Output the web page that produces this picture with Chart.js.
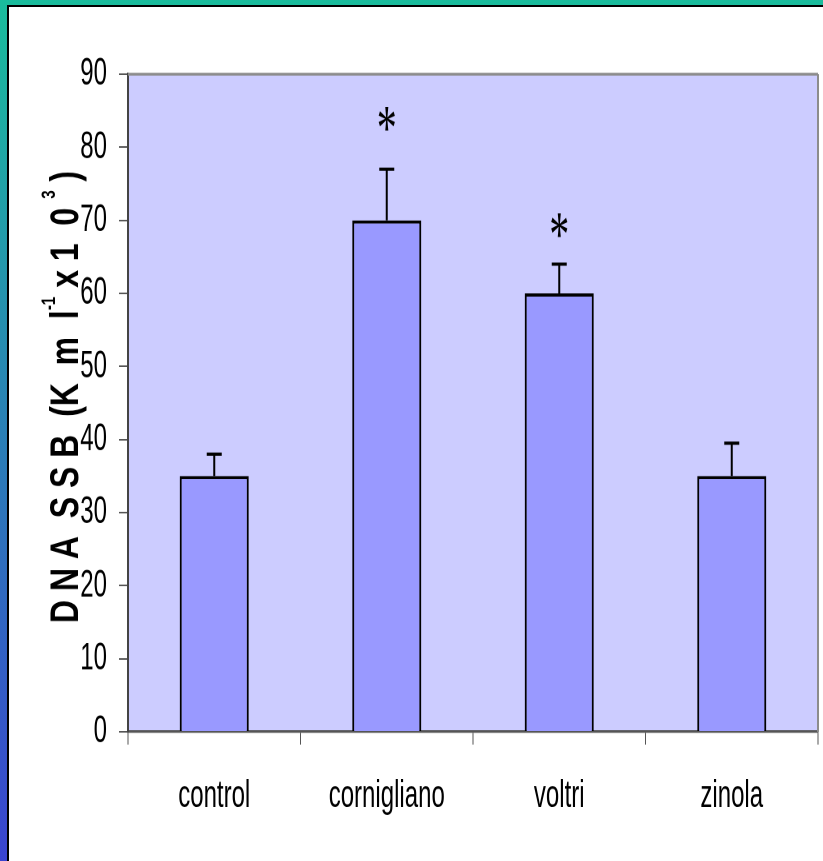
<!DOCTYPE html>
<html lang="en">
<head>
  <meta charset="UTF-8" />
  <title>DNA SSB</title>
  <script src="https://cdn.jsdelivr.net/npm/chart.js"></script>
  <style>
    html, body { margin: 0; padding: 0; }
    body {
      width: 823px;
      height: 861px;
      overflow: hidden;
      position: relative;
      background: linear-gradient(to bottom, #1abc9c, #3a44d0);
    }
    #panel {
      position: absolute;
      left: 7px; top: 5px; right: 0; bottom: 0;
      background: #fff;
      border-left: 2px solid #000;
      border-top: 2px solid #000;
      overflow: hidden;
    }
    #chart { position: absolute; left: 0; top: 0; transform-origin: 0 0; }
  </style>
</head>
<body>
  <div id="panel"><canvas id="chart" width="814" height="534"></canvas></div>

  <script>
    // data
    const sites = ['control', 'cornigliano', 'voltri', 'zinola'];
    const ssbMeans = [35, 70, 60, 35];
    const ssbErrors = [3, 7, 4, 4.5];        // upper error only
    const starAt = [null, 83.8, 69.2, null];  // where the * marks sit
    const yMin = 0, yMax = 90, yStep = 10;

    // the original chart is squashed sideways, so stretch the canvas vertically
    const S = 1.6;
    const canvas = document.getElementById('chart');
    canvas.style.transform = `scaleY(${S})`;

    const FONT = '"Liberation Sans", Arial, sans-serif';

    const plotFrame = {
      id: 'plotFrame',
      beforeDraw(chart) {
        const { ctx, chartArea: a } = chart;
        ctx.save();
        ctx.fillStyle = '#ccccff';
        ctx.fillRect(a.left, a.top, a.width, a.height);
        ctx.restore();
      },
      beforeDatasetsDraw(chart) {
        const { ctx, chartArea: a } = chart;
        ctx.save();
        ctx.strokeStyle = '#8c8c8c';
        ctx.lineWidth = 1.7;
        ctx.beginPath(); ctx.moveTo(a.left, a.top); ctx.lineTo(a.right, a.top); ctx.stroke();
        ctx.lineWidth = 2;
        ctx.beginPath(); ctx.moveTo(a.right, a.top); ctx.lineTo(a.right, a.bottom); ctx.stroke();
        ctx.restore();
      }
    };

    const errorBars = {
      id: 'errorBars',
      afterDatasetsDraw(chart) {
        const { ctx, scales: { y } } = chart;
        const bars = chart.getDatasetMeta(0).data;
        ctx.save();
        ctx.strokeStyle = '#000';
        ctx.lineWidth = 2;
        bars.forEach((bar, i) => {
          const top = y.getPixelForValue(ssbMeans[i] + ssbErrors[i]);
          ctx.beginPath(); ctx.moveTo(bar.x, bar.y); ctx.lineTo(bar.x, top); ctx.stroke();
          ctx.beginPath(); ctx.moveTo(bar.x - 7.5, top); ctx.lineTo(bar.x + 7.5, top); ctx.stroke();
        });
        ctx.restore();
      }
    };

    const stars = {
      id: 'stars',
      afterDatasetsDraw(chart) {
        const { ctx, scales: { x, y } } = chart;
        ctx.save();
        ctx.fillStyle = '#000';
        ctx.font = '40px "Liberation Serif", serif';
        ctx.textAlign = 'center';
        ctx.textBaseline = 'alphabetic';
        const m = ctx.measureText('*');
        const shift = (m.actualBoundingBoxAscent - m.actualBoundingBoxDescent) / 2;
        starAt.forEach((v, i) => {
          if (v == null) return;
          ctx.fillText('*', x.getPixelForValue(i), y.getPixelForValue(v) + shift);
        });
        ctx.restore();
      }
    };

    // y axis title with superscripts, drawn by hand
    const titleParts = [
      ['D N A  S S B  (K  m  l', false],
      ['-1', true],
      [' x 1  0 ', false],
      ['3', true],
      [' )', false]
    ];
    const yTitle = {
      id: 'yTitle',
      afterDraw(chart) {
        const { ctx, chartArea: a } = chart;
        const G = 0.8;
        const mainFont = `bold 40px ${FONT}`;
        const supFont = `bold 19px ${FONT}`;
        ctx.save();
        ctx.scale(1, 1 / S);
        let total = 0;
        titleParts.forEach(([t, sup]) => {
          ctx.font = sup ? supFont : mainFont;
          total += ctx.measureText(t).width * G;
        });
        const cy = (a.top + a.bottom) / 2 * S - 6;
        ctx.translate(69, cy + total / 2);
        ctx.rotate(-Math.PI / 2);
        ctx.scale(G, 1);
        ctx.fillStyle = '#000';
        ctx.textBaseline = 'alphabetic';
        ctx.textAlign = 'left';
        let cx = 0;
        titleParts.forEach(([t, sup]) => {
          ctx.font = sup ? supFont : mainFont;
          ctx.fillText(t, cx, sup ? -23 : 0);
          cx += ctx.measureText(t).width;
        });
        ctx.restore();
      }
    };

    new Chart(canvas, {
      type: 'bar',
      data: {
        labels: sites,
        datasets: [{
          data: ssbMeans,
          backgroundColor: '#9999ff',
          borderColor: '#000',
          borderWidth: 2,
          barPercentage: 0.4,
          categoryPercentage: 1.0
        }]
      },
      options: {
        responsive: false,
        animation: false,
        devicePixelRatio: 2,
        layout: { padding: { top: 42, right: 5, left: 0, bottom: 0 } },
        plugins: { legend: { display: false }, tooltip: { enabled: false } },
        scales: {
          x: {
            grid: { drawOnChartArea: false, drawTicks: true, tickLength: 8, color: '#555', lineWidth: 1, offset: true },
            border: { display: true, color: '#555', width: 1.6 },
            ticks: { font: { family: FONT, size: 24 }, color: '#000', padding: 18, maxRotation: 0, autoSkip: false },
            afterFit(s) { s.height = 81; }
          },
          y: {
            min: yMin,
            max: yMax,
            grid: { drawOnChartArea: false, drawTicks: true, tickLength: 9, color: '#555', lineWidth: 1 },
            border: { display: true, color: '#444', width: 2 },
            ticks: { stepSize: yStep, font: { family: FONT, size: 24 }, color: '#000', padding: 12 },
            afterFit(s) { s.width = 119; }
          }
        }
      },
      plugins: [plotFrame, errorBars, stars, yTitle]
    });
  </script>
</body>
</html>
